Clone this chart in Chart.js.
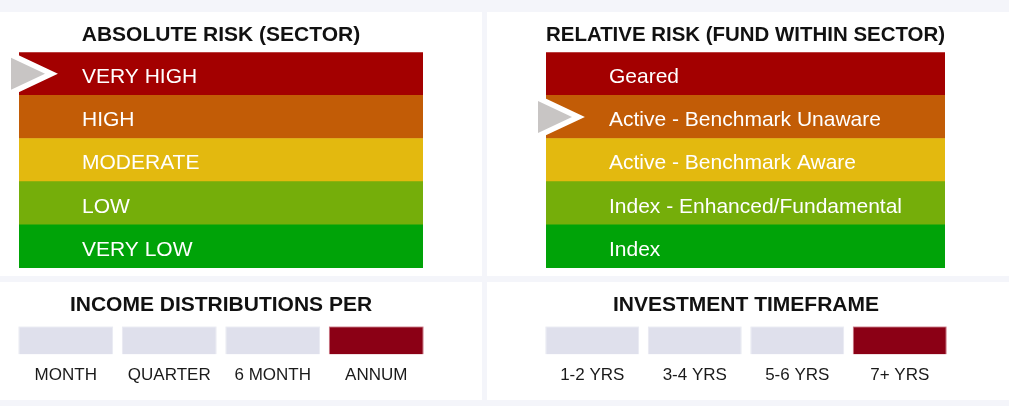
<!DOCTYPE html>
<html>
<head>
<meta charset="utf-8">
<script src="https://cdn.jsdelivr.net/npm/chart.js@4/dist/chart.umd.min.js"></script>
<style>
  html, body { margin: 0; padding: 0; }
  body { width: 1009px; height: 406px; background: #f4f5fa; position: relative; overflow: hidden; }
  .panel { position: absolute; background: #ffffff; }
  .panel canvas { display: block; }
</style>
</head>
<body>
<div class="panel" style="left:0;top:12px;width:482px;height:264px"><canvas id="absChart" width="482" height="264"></canvas></div>
<div class="panel" style="left:487px;top:12px;width:522px;height:264px"><canvas id="relChart" width="522" height="264"></canvas></div>
<div class="panel" style="left:0;top:282px;width:482px;height:118px"><canvas id="incChart" width="482" height="118"></canvas></div>
<div class="panel" style="left:487px;top:282px;width:522px;height:118px"><canvas id="timeChart" width="522" height="118"></canvas></div>

<script>
// --- DATA ---
const absoluteRiskLevels = ['VERY HIGH', 'HIGH', 'MODERATE', 'LOW', 'VERY LOW'];
const relativeRiskLevels = ['Geared', 'Active - Benchmark Unaware', 'Active - Benchmark Aware', 'Index - Enhanced/Fundamental', 'Index'];
const riskBandValues = [1, 1, 1, 1, 1];
const absoluteRiskRating = 'VERY HIGH';
const relativeRiskRating = 'Active - Benchmark Unaware';

const distributionPeriods = ['MONTH', 'QUARTER', '6 MONTH', 'ANNUM'];
const distributionValues = [1, 1, 1, 1];
const distributionSelected = 'ANNUM';

const timeframes = ['1-2 YRS', '3-4 YRS', '5-6 YRS', '7+ YRS'];
const timeframeValues = [1, 1, 1, 1];
const timeframeSelected = '7+ YRS';

// --- STYLE ---
const FONT = "'Liberation Sans', Arial, sans-serif";
const riskColors = ['#a30000', '#c25c06', '#e3b90f', '#75ae0a', '#00a308'];
const offColor = '#dfe0ec';
const onColor = '#8b0015';

Chart.defaults.font.family = FONT;
Chart.defaults.animation = false;

// writes the band name inside each horizontal bar
const bandLabels = {
    id: 'bandLabels',
    afterDatasetsDraw(chart) {
        const ctx = chart.ctx;
        const meta = chart.getDatasetMeta(0);
        ctx.save();
        ctx.fillStyle = '#ffffff';
        ctx.font = '21px ' + FONT;
        ctx.textBaseline = 'middle';
        ctx.textAlign = 'left';
        meta.data.forEach((bar, i) => {
            ctx.fillText(chart.data.labels[i], chart.chartArea.left + 63, bar.y + 3.5);
        });
        ctx.restore();
    }
};

// grey pointer next to the rated band
const pointerArrow = {
    id: 'pointerArrow',
    afterDatasetsDraw(chart, args, opts) {
        const idx = chart.data.labels.indexOf(opts.rating);
        if (idx < 0) return;
        const y = chart.scales.y.getPixelForValue(idx);
        const left = chart.chartArea.left;
        const ctx = chart.ctx;
        ctx.save();
        ctx.beginPath();
        ctx.moveTo(left - 8, y - 16);
        ctx.lineTo(left + 26, y);
        ctx.lineTo(left - 8, y + 16);
        ctx.closePath();
        ctx.lineJoin = 'miter';
        ctx.lineWidth = 11;
        ctx.strokeStyle = '#ffffff';
        ctx.stroke();
        ctx.fillStyle = '#c8c5c4';
        ctx.fill();
        ctx.restore();
    }
};

function riskChart(id, title, levels, rating, padLeft, padRight) {
    return new Chart(document.getElementById(id), {
        type: 'bar',
        data: {
            labels: levels,
            datasets: [{
                data: riskBandValues,
                backgroundColor: riskColors,
                borderWidth: 0,
                barPercentage: 1,
                categoryPercentage: 1
            }]
        },
        options: {
            indexAxis: 'y',
            responsive: false,
            events: [],
            layout: { padding: { left: padLeft, right: padRight, top: 0, bottom: 8 } },
            scales: {
                x: { display: false, min: 0, max: 1 },
                y: { display: false }
            },
            plugins: {
                legend: { display: false },
                tooltip: { enabled: false },
                title: {
                    display: true,
                    text: title,
                    color: '#111111',
                    font: { size: 21, weight: 'bold' },
                    padding: { top: 11, bottom: 4 }
                },
                pointerArrow: { rating: rating }
            }
        },
        plugins: [bandLabels, pointerArrow]
    });
}

function choiceChart(id, title, cats, values, selected, padLeft, padRight) {
    return new Chart(document.getElementById(id), {
        type: 'bar',
        data: {
            labels: cats,
            datasets: [{
                data: values,
                backgroundColor: cats.map(c => c === selected ? onColor : offColor),
                borderColor: cats.map(c => c === selected ? '#c9707f' : '#e8e9f1'),
                borderWidth: 1,
                barPercentage: 0.917,
                categoryPercentage: 1
            }]
        },
        options: {
            responsive: false,
            events: [],
            layout: { padding: { left: padLeft, right: padRight, top: 0, bottom: 3 } },
            scales: {
                y: { display: false, min: 0, max: 1 },
                x: {
                    grid: { display: false, drawTicks: false },
                    border: { display: false },
                    ticks: {
                        color: '#1a1a1a',
                        font: { size: 17 },
                        padding: 11,
                        maxRotation: 0,
                        autoSkip: false
                    }
                }
            },
            plugins: {
                legend: { display: false },
                tooltip: { enabled: false },
                title: {
                    display: true,
                    text: title,
                    color: '#111111',
                    font: { size: 21, weight: 'bold' },
                    padding: { top: 11, bottom: 8 }
                }
            }
        }
    });
}

riskChart('absChart', 'ABSOLUTE RISK (SECTOR)', absoluteRiskLevels, absoluteRiskRating, 19, 59);
riskChart('relChart', 'RELATIVE RISK (FUND WITHIN SECTOR)', relativeRiskLevels, relativeRiskRating, 59, 64);
choiceChart('incChart', 'INCOME DISTRIBUTIONS PER', distributionPeriods, distributionValues, distributionSelected, 14, 54);
choiceChart('timeChart', 'INVESTMENT TIMEFRAME', timeframes, timeframeValues, timeframeSelected, 54, 58);
</script>
</body>
</html>
